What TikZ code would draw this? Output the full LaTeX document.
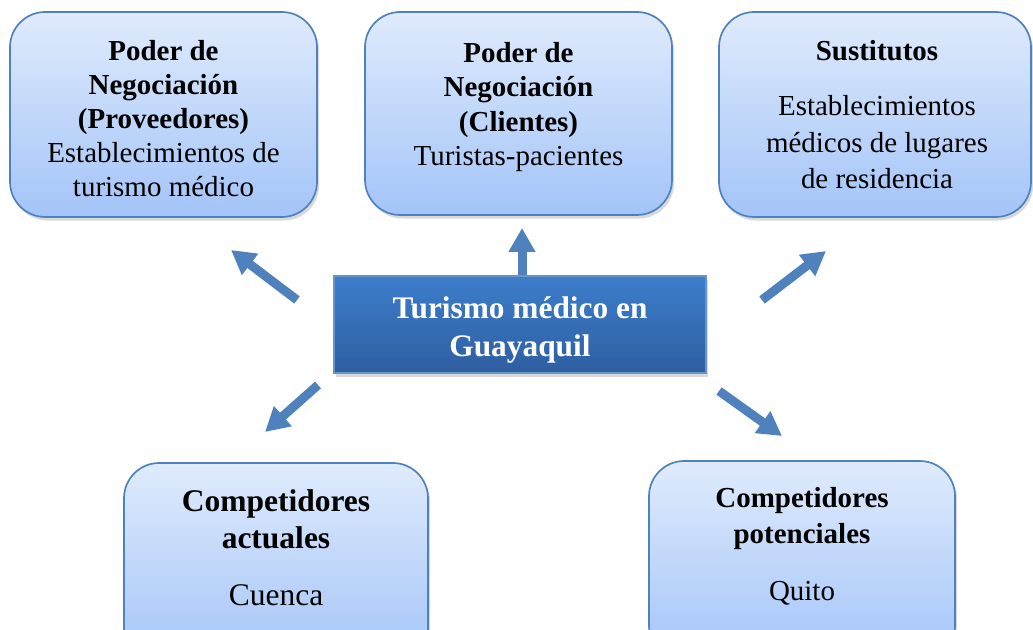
\documentclass[tikz,border=0pt]{standalone}
\usepackage{fontspec}
\setmainfont{Liberation Serif}
\usetikzlibrary{arrows.meta,shadows}
\definecolor{boxtop}{RGB}{223,235,252}
\definecolor{boxbot}{RGB}{163,196,248}
\definecolor{boxline}{RGB}{79,129,189}
\definecolor{midtop}{RGB}{61,126,204}
\definecolor{midbot}{RGB}{46,94,160}
\definecolor{arrblue}{RGB}{79,129,189}
\def\pxu{0.025cm}
\begin{document}
\begin{tikzpicture}[x=\pxu,y=-\pxu,
	caja/.style={draw=boxline,line width=1.2pt,rounded corners=25pt,top color=boxtop,bottom color=boxbot,inner sep=0pt,
		drop shadow={shadow xshift=1.5pt,shadow yshift=-2.5pt,opacity=.3}},
	centro/.style={draw=boxline!85!white,line width=1pt,top color=midtop,bottom color=midbot,inner sep=0pt,
		drop shadow={shadow xshift=1.5pt,shadow yshift=-2.5pt,opacity=.3}},
	txt/.style={align=center,inner sep=0pt,anchor=north},
	flecha/.style={draw=arrblue,line width=6.4pt,-{Triangle[length=17pt,width=18pt]}}]
	\useasboundingbox (0,0) rectangle (1033,630);
	\clip (0,0) rectangle (1033,630);
	% cajas
	\node[caja,minimum width=307*\pxu,minimum height=205*\pxu] (prov) at (163.5,114.5) {};
	\node[caja,minimum width=307*\pxu,minimum height=203*\pxu] (clie) at (518.5,113.5) {};
	\node[caja,minimum width=312*\pxu,minimum height=205*\pxu] (sust) at (875,114.5) {};
	\node[caja,minimum width=304*\pxu,minimum height=200*\pxu] (actu) at (276,563) {};
	\node[caja,minimum width=306*\pxu,minimum height=200*\pxu] (pote) at (802,561) {};
	% flechas
	\foreach \n/\xa/\ya/\xb/\yb in {1/297/300/231/250,2/522/278/522/228,3/762/300/826/251,4/318/385/265/432,5/719/391/782/436}{
		\coordinate (s\n) at (\xa,\ya); \coordinate (e\n) at (\xb,\yb);
		\draw[flecha] (s\n)--(e\n);}
	\node[centro,minimum width=372*\pxu,minimum height=97*\pxu] (gye) at (520,324.5) {};
	% textos
	\node[txt,font=\fontsize{20.6}{24.2}\selectfont] (provt) at (163.5,40) {\textbf{Poder de}\\\textbf{Negociación}\\\textbf{(Proveedores)}\\Establecimientos de\\turismo médico};
	\node[txt,font=\fontsize{20.6}{24.4}\selectfont] (cliet) at (518.5,42) {\textbf{Poder de}\\\textbf{Negociación}\\\textbf{(Clientes)}\\Turistas-pacientes};
	\node[txt,font=\fontsize{20.6}{26}\selectfont] (sustt) at (877,40) {\textbf{Sustitutos}\\[13.2pt]Establecimientos\\médicos de lugares\\de residencia};
	\node[txt,font=\fontsize{22.3}{27}\selectfont\bfseries,text=white] (gyet) at (520,296) {Turismo médico en\\Guayaquil};
	\node[txt,font=\fontsize{22.4}{26.3}\selectfont] (actut) at (276,489.5) {\textbf{Competidores}\\\textbf{actuales}\\[14.2pt]Cuenca};
	\node[txt,font=\fontsize{20.6}{25.6}\selectfont] (potet) at (802,487) {\textbf{Competidores}\\\textbf{potenciales}\\[15pt]Quito};
\end{tikzpicture}
\end{document}
